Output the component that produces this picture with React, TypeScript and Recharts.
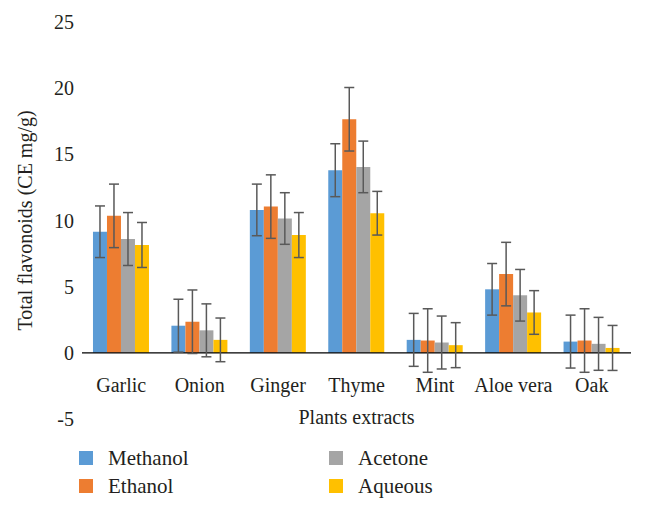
import {
	Bar,
	BarChart,
	ErrorBar,
	Legend,
	ReferenceLine,
	XAxis,
	YAxis,
} from 'recharts'

const plants = ['Garlic', 'Onion', 'Ginger', 'Thyme', 'Mint', 'Aloe vera', 'Oak']

const methanol = [9.15, 2.05, 10.8, 13.8, 0.98, 4.8, 0.85]
const ethanol = [10.35, 2.35, 11.05, 17.65, 0.93, 5.95, 0.93]
const acetone = [8.6, 1.7, 10.15, 14.05, 0.78, 4.35, 0.68]
const aqueous = [8.15, 0.98, 8.9, 10.55, 0.58, 3.05, 0.37]

const methanolErr = [1.95, 2.0, 1.95, 2.0, 2.0, 1.95, 2.0]
const ethanolErr = [2.4, 2.4, 2.4, 2.4, 2.4, 2.4, 2.4]
const acetoneErr = [2.0, 2.0, 1.95, 1.95, 2.0, 1.95, 2.0]
const aqueousErr = [1.7, 1.65, 1.7, 1.65, 1.7, 1.65, 1.7]

const yTicks = [-5, 0, 5, 10, 15, 20, 25]

const data = plants.map((plant, i) => ({
	plant,
	Methanol: methanol[i],
	Ethanol: ethanol[i],
	Acetone: acetone[i],
	Aqueous: aqueous[i],
	methanolErr: methanolErr[i],
	ethanolErr: ethanolErr[i],
	acetoneErr: acetoneErr[i],
	aqueousErr: aqueousErr[i],
}))

const series = [
	{ key: 'Methanol', err: 'methanolErr', color: '#5B9BD5' },
	{ key: 'Ethanol', err: 'ethanolErr', color: '#ED7D31' },
	{ key: 'Acetone', err: 'acetoneErr', color: '#A5A5A5' },
	{ key: 'Aqueous', err: 'aqueousErr', color: '#FFC000' },
]

const font = "'Liberation Serif', 'Times New Roman', serif"
const textColor = '#231f20'

const PlantTick = ({ x, y, payload }) => (
	<text
		x={x}
		y={y}
		dy={-35}
		textAnchor='middle'
		fill={textColor}
		fontSize={20}
		fontFamily={font}
	>
		{payload.value}
	</text>
)

// legend in two columns like the excel one
const LegendGrid = () => (
	<div
		style={{
			display: 'grid',
			gridTemplateColumns: '250px 200px',
			rowGap: 6,
			textAlign: 'left',
		}}
	>
		{[series[0], series[2], series[1], series[3]].map((s) => (
			<div key={s.key} style={{ display: 'flex', alignItems: 'center', height: 22 }}>
				<span
					style={{
						display: 'inline-block',
						width: 14,
						height: 14,
						background: s.color,
						marginRight: 15,
					}}
				/>
				<span style={{ fontFamily: font, fontSize: 21, color: textColor }}>
					{s.key}
				</span>
			</div>
		))}
	</div>
)

export default function App() {
	return (
		<div style={{ position: 'absolute', left: 0, top: 0, background: '#fff' }}>
			<BarChart
				width={645}
				height={511}
				data={data}
				margin={{ top: 22, right: 14, left: 0, bottom: 32 }}
				barCategoryGap='14%'
				barGap={0}
			>
				<XAxis
					dataKey='plant'
					axisLine={false}
					tickLine={false}
					height={60}
					interval={0}
					tick={PlantTick}
					label={{
						value: 'Plants extracts',
						position: 'insideTop',
						offset: -9,
						fill: textColor,
						fontSize: 20,
						fontFamily: font,
					}}
				/>
				<YAxis
					width={82}
					domain={[-5, 25]}
					ticks={yTicks}
					axisLine={false}
					tickLine={false}
					tick={{ fill: textColor, fontSize: 20, fontFamily: font }}
					label={{
						value: 'Total flavonoids (CE mg/g)',
						angle: -90,
						position: 'insideLeft',
						offset: 25,
						fill: textColor,
						fontSize: 20,
						fontFamily: font,
						style: { textAnchor: 'middle' },
					}}
				/>
				<ReferenceLine y={0} stroke='#000' strokeWidth={1.3} />
				{series.map((s) => (
					<Bar key={s.key} dataKey={s.key} fill={s.color} isAnimationActive={false}>
						<ErrorBar
							dataKey={s.err}
							direction='y'
							width={5}
							stroke='#595959'
							strokeWidth={1.5}
							isAnimationActive={false}
						/>
					</Bar>
				))}
				<Legend
					layout='vertical'
					align='center'
					verticalAlign='middle'
					wrapperStyle={{ top: 447, left: 79, width: 460, fontFamily: font }}
					content={LegendGrid}
				/>
			</BarChart>
		</div>
	)
}
